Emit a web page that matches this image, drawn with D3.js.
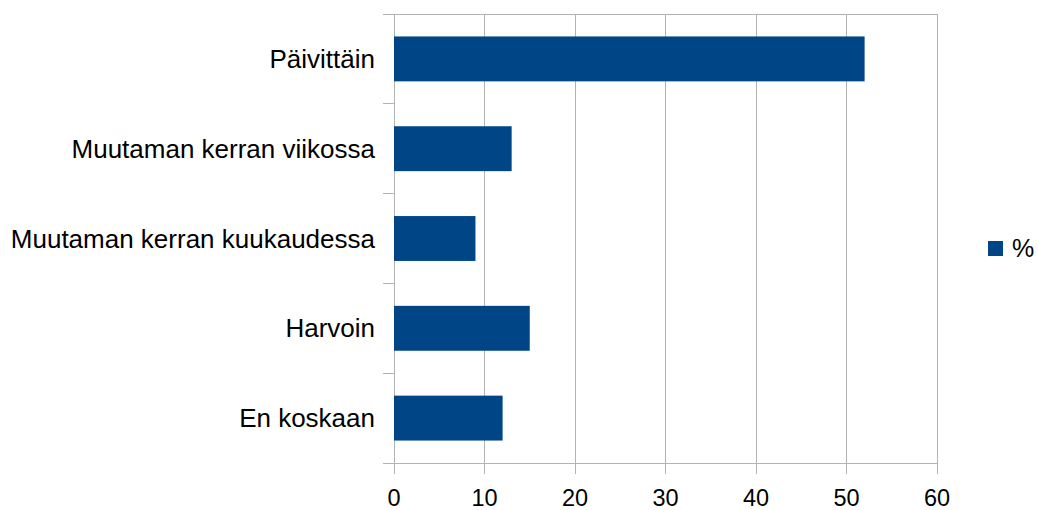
<!DOCTYPE html>
<html>
<head>
<meta charset="utf-8">
<script src="https://cdn.jsdelivr.net/npm/d3@7"></script>
<style>
  body { margin: 0; background: #fff; }
  svg { display: block; }
  text { font-family: "Liberation Sans", Arial, sans-serif; fill: #000; }
</style>
</head>
<body>
<div id="chart"></div>
<script>
const categories = ['Päivittäin', 'Muutaman kerran viikossa', 'Muutaman kerran kuukaudessa', 'Harvoin', 'En koskaan']
const values = [52, 13, 9, 15, 12]
const xTicks = [0, 10, 20, 30, 40, 50, 60]
const seriesName = '%'

const width = 1038, height = 510
const margin = {top: 14, left: 394, right: 101, bottom: 47}
const gridColor = '#b3b3b3'
const barColor = '#004586'

const svg = d3.select('#chart').append('svg')
  .attr('width', width)
  .attr('height', height)

const x = d3.scaleLinear()
  .domain([0, 60])
  .range([margin.left, width - margin.right])

const y = d3.scaleBand()
  .domain(categories)
  .range([margin.top, height - margin.bottom])
  .paddingInner(0.5)
  .paddingOuter(0.25)

const yBand = d3.scaleBand()
  .domain(categories)
  .range([margin.top, height - margin.bottom])

// vertical gridlines + bottom ticks
svg.append('g')
  .selectAll('line')
  .data(xTicks)
  .join('line')
    .attr('x1', d => x(d))
    .attr('x2', d => x(d))
    .attr('y1', margin.top)
    .attr('y2', height - margin.bottom + 11)
    .attr('stroke', gridColor)
    .attr('stroke-width', 1)
    .attr('shape-rendering', 'crispEdges')

// horizontal category boundaries, extended as ticks to the left
const bounds = categories.map(c => yBand(c)).concat([height - margin.bottom])
svg.append('g')
  .selectAll('line')
  .data(bounds)
  .join('line')
    .attr('x1', margin.left - 11)
    .attr('x2', (d, i) => (i === 0 || i === bounds.length - 1) ? x(60) : margin.left)
    .attr('y1', d => d)
    .attr('y2', d => d)
    .attr('stroke', gridColor)
    .attr('stroke-width', 1)
    .attr('shape-rendering', 'crispEdges')

// bars
svg.append('g')
  .selectAll('rect')
  .data(values)
  .join('rect')
    .attr('x', x(0))
    .attr('y', (d, i) => y(categories[i]))
    .attr('width', d => x(d) - x(0))
    .attr('height', y.bandwidth())
    .attr('fill', barColor)

// category labels
svg.append('g')
  .selectAll('text')
  .data(categories)
  .join('text')
    .attr('x', margin.left - 19)
    .attr('y', d => yBand(d) + yBand.bandwidth() / 2)
    .attr('dy', '0.35em')
    .attr('text-anchor', 'end')
    .attr('font-size', 26)
    .text(d => d)

// x tick labels
svg.append('g')
  .selectAll('text')
  .data(xTicks)
  .join('text')
    .attr('x', d => x(d))
    .attr('y', 506)
    .attr('text-anchor', 'middle')
    .attr('font-size', 23.5)
    .text(d => d)

// legend
const legend = svg.append('g').attr('transform', 'translate(988,241)')
legend.append('rect')
  .attr('width', 15)
  .attr('height', 15)
  .attr('fill', barColor)
legend.append('text')
  .attr('x', 24)
  .attr('y', 16)
  .attr('font-size', 25)
  .text(seriesName)
</script>
</body>
</html>
